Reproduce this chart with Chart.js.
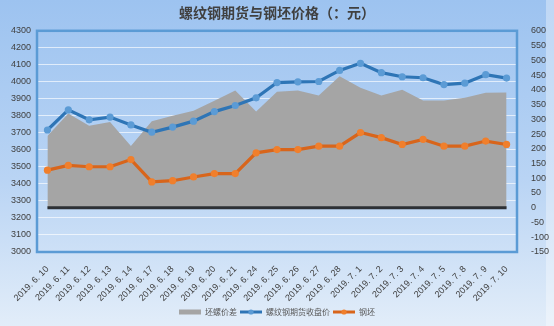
<!DOCTYPE html>
<html>
<head>
<meta charset="utf-8">
<script src="https://cdn.jsdelivr.net/npm/chart.js@4/dist/chart.umd.min.js"></script>
<style>
html,body{margin:0;padding:0;background:#c9ddf6;}
#wrap{width:554px;height:326px;position:relative;}
</style>
</head>
<body>
<div id="wrap"><canvas id="c" width="554" height="326"></canvas></div>
<script>
const categories = ["2019. 6. 10","2019. 6. 11","2019. 6. 12","2019. 6. 13","2019. 6. 14","2019. 6. 17","2019. 6. 18","2019. 6. 19","2019. 6. 20","2019. 6. 21","2019. 6. 24","2019. 6. 25","2019. 6. 26","2019. 6. 27","2019. 6. 28","2019. 7. 1","2019. 7. 2","2019. 7. 3","2019. 7. 4","2019. 7. 5","2019. 7. 8","2019. 7. 9","2019. 7. 10"];
const spreadValues = [243,320,278,291,209,293,312,329,363,398,326,393,398,381,446,407,381,400,364,364,373,390,391];
const futuresValues = [3717,3835,3777,3793,3747,3704,3734,3769,3825,3861,3906,3996,4000,4002,4067,4109,4054,4030,4024,3984,3992,4042,4022];
const billetValues = [3481,3509,3501,3501,3543,3412,3419,3441,3461,3461,3583,3602,3602,3622,3622,3702,3672,3632,3662,3622,3622,3652,3632];
const baselineValues = categories.map(() => 0);
const seriesNames = ["坯螺价差","螺纹钢期货收盘价","钢坯"];
const titleText = "螺纹钢期货与钢坯价格（：元）";
const leftTicks = {min:3000, max:4300, step:100};
const rightTicks = {min:-150, max:600, step:50};

const bgPlugin = {
  id:'bg',
  beforeDraw(chart){
    const ctx = chart.ctx;
    const g = ctx.createLinearGradient(0,0,0,chart.height);
    g.addColorStop(0,'#9dc3f0');
    g.addColorStop(0.55,'#b9d4f4');
    g.addColorStop(1,'#e2edf9');
    ctx.save();
    ctx.fillStyle = g;
    ctx.fillRect(0,0,chart.width,chart.height);
    ctx.fillStyle = 'rgba(255,255,255,0.35)';
    ctx.fillRect(546,0,8,chart.height);
    ctx.restore();
  },
  afterDraw(chart){
    const a = chart.chartArea;
    const ctx = chart.ctx;
    ctx.save();
    ctx.strokeStyle = '#5b9bd5';
    ctx.lineWidth = 2.5;
    ctx.strokeRect(a.left, a.top, a.right-a.left, a.bottom-a.top);
    const lg = chart.legend;
    if (lg && lg.legendHitBoxes) {
      lg.legendItems.forEach((it,i)=>{
        if (it.pointStyle === 'line') {
          const hb = lg.legendHitBoxes[i];
          const cx = hb.left + 11;
          const cy = hb.top + hb.height/2;
          ctx.beginPath();
          ctx.arc(cx, cy, 2.6, 0, Math.PI*2);
          ctx.fillStyle = it.dotColor;
          ctx.fill();
        }
      });
    }
    ctx.restore();
  }
};

new Chart(document.getElementById('c'), {
  type:'line',
  data:{
    labels:categories,
    datasets:[
      {
        label:seriesNames[1], data:futuresValues, yAxisID:'y',
        borderColor:'#2e75b6', borderWidth:3.2, pointRadius:3.6, pointBackgroundColor:'#5b9bd5',
        pointBorderWidth:0, tension:0, order:1
      },
      {
        label:seriesNames[2], data:billetValues, yAxisID:'y',
        borderColor:'#d8651b', borderWidth:3.2, pointRadius:3.6, pointBackgroundColor:'#f07f2c',
        pointBorderWidth:0, tension:0, order:2
      },
      {
        label:'_base', data:baselineValues, yAxisID:'y1',
        borderColor:'#2d3035', borderWidth:3.2, pointRadius:0, fill:false, order:3
      },
      {
        label:seriesNames[0], data:spreadValues, yAxisID:'y1',
        borderColor:'#a5a5a5', backgroundColor:'#a5a5a5', borderWidth:0, pointRadius:0,
        fill:'origin', tension:0, order:4
      }
    ]
  },
  options:{
    responsive:false, animation:false,
    layout:{padding:{left:0,right:0,top:0,bottom:0}},
    plugins:{
      title:{display:true, text:titleText, color:'#404040',
        font:{family:'"Noto Sans CJK SC", sans-serif', size:14, weight:'bold'},
        padding:{top:4,bottom:10}},
      tooltip:{enabled:false},
      legend:{
        position:'bottom',
        labels:{
          color:'#595959', font:{family:'"Noto Sans CJK SC", sans-serif', size:8},
          usePointStyle:true, pointStyleWidth:22, boxHeight:5, padding:3,
          filter:(it)=>it.text !== '_base',
          sort:(a,b)=>{const o={[seriesNames[0]]:0,[seriesNames[1]]:1,[seriesNames[2]]:2};return o[a.text]-o[b.text];},
          generateLabels(chart){
            return chart.data.datasets.map((ds,i)=>{
              const isArea = ds.label===seriesNames[0];
              return {
                text:ds.label, datasetIndex:i,
                fillStyle: isArea ? '#a5a5a5' : ds.borderColor,
                strokeStyle: isArea ? '#a5a5a5' : ds.borderColor,
                lineWidth: isArea ? 0 : 3,
                pointStyle: isArea ? 'rect' : 'line',
                dotColor: ds.pointBackgroundColor,
                fontColor:'#595959', hidden:false
              };
            });
          }
        }
      }
    },
    scales:{
      x:{
        offset:true,
        grid:{display:false},
        border:{display:false},
        ticks:{color:'#404040', font:{family:'"Liberation Sans", Arial, sans-serif', size:9}, maxRotation:45, minRotation:45, autoSkip:false, padding:4},
        afterFit(s){ s.height = 53; }
      },
      y:{
        position:'left', min:leftTicks.min, max:leftTicks.max,
        ticks:{stepSize:leftTicks.step, color:'#404040', font:{family:'"Liberation Sans", Arial, sans-serif', size:9}, padding:6,
          callback:(v)=>String(v)},
        grid:{color:'rgba(255,255,255,0.65)', lineWidth:1, drawTicks:false},
        border:{display:false},
        afterFit(s){ s.width = 37; }
      },
      y1:{
        position:'right', min:rightTicks.min, max:rightTicks.max,
        ticks:{stepSize:rightTicks.step, color:'#404040', font:{family:'"Liberation Sans", Arial, sans-serif', size:9}, padding:6,
          callback:(v)=>String(v)},
        grid:{display:false},
        border:{display:false},
        afterFit(s){ s.width = 37; }
      }
    }
  },
  plugins:[bgPlugin]
});
</script>
</body>
</html>
